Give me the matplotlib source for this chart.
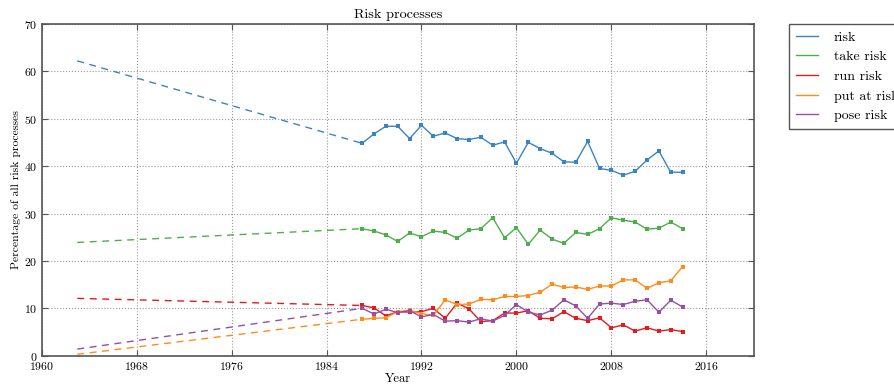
import matplotlib
matplotlib.use("Agg")
import matplotlib.pyplot as plt

# Estimated starting shares in 1963 (drawn as dashed link to 1987)
year_start = 1963
start_values = {
    "risk": 62.2,
    "take risk": 23.9,
    "run risk": 12.1,
    "put at risk": 0.3,
    "pose risk": 1.4,
}

years = list(range(1987, 2015))

risk = [44.8, 46.8, 48.4, 48.4, 45.8, 48.6, 46.3, 47.0, 45.8, 45.6, 46.1, 44.4,
        45.1, 40.6, 45.0, 43.7, 42.7, 40.9, 40.8, 45.2, 39.5, 39.1, 38.1, 38.9,
        41.3, 43.2, 38.7, 38.7]
take_risk = [26.8, 26.3, 25.5, 24.1, 25.9, 25.1, 26.3, 26.0, 24.8, 26.5, 26.8, 29.1,
             24.9, 27.0, 23.5, 26.5, 24.6, 23.7, 26.0, 25.6, 26.8, 29.1, 28.6, 28.2,
             26.7, 26.9, 28.2, 26.8]
run_risk = [10.6, 10.1, 8.4, 9.3, 9.2, 9.3, 10.0, 7.9, 11.1, 9.9, 7.2, 7.4,
            9.0, 9.0, 9.5, 7.9, 7.8, 9.3, 7.9, 7.4, 8.0, 5.9, 6.5, 5.2,
            5.9, 5.2, 5.5, 5.1]
put_at_risk = [7.7, 7.9, 8.0, 9.3, 9.6, 8.9, 8.5, 11.8, 10.8, 10.9, 11.9, 11.8,
               12.5, 12.5, 12.7, 13.4, 15.1, 14.4, 14.5, 14.0, 14.7, 14.7, 16.0, 16.0,
               14.2, 15.4, 15.8, 18.8]
pose_risk = [10.0, 8.8, 9.8, 9.1, 9.5, 8.2, 8.7, 7.3, 7.4, 7.1, 7.8, 7.3,
             8.5, 10.8, 9.2, 8.6, 9.6, 11.8, 10.5, 7.9, 10.9, 11.1, 10.8, 11.5,
             11.8, 9.2, 11.7, 10.3]

series = [
    ("risk", risk, "#3a84c4"),
    ("take risk", take_risk, "#4daf4a"),
    ("run risk", run_risk, "#e41a1c"),
    ("put at risk", put_at_risk, "#ff8c1a"),
    ("pose risk", pose_risk, "#984ea3"),
]

x_ticks = [1960, 1968, 1976, 1984, 1992, 2000, 2008, 2016]
y_ticks = [0, 10, 20, 30, 40, 50, 60, 70]

plt.rcParams["font.family"] = ["cmr10", "DejaVu Serif"]
plt.rcParams["axes.formatter.use_mathtext"] = True
plt.rcParams["mathtext.fontset"] = "cm"

fig = plt.figure(figsize=(8.94, 3.85), dpi=100)
ax = fig.add_axes([0.0466, 0.076, 0.7966, 0.862])

for name, values, color in series:
    ax.plot([year_start, years[0]], [start_values[name], values[0]],
            linestyle="--", color=color, linewidth=1.0, dashes=(5, 4))
    ax.plot(years, values, color=color, linewidth=1.0, label=name)
    ax.plot(years, values, color=color, linestyle="none", marker="s",
            markersize=2.2, markeredgewidth=0)

ax.set_xlim(1960, 2020)
ax.set_ylim(0, 70)
ax.set_xticks(x_ticks)
ax.set_yticks(y_ticks)
ax.tick_params(direction="in", top=True, right=True, length=4,
               labelsize=8.5, color="#555555", width=0.8, pad=3)
ax.grid(True, linestyle=":", color="#999999", linewidth=0.8)
for spine in ax.spines.values():
    spine.set_color("#555555")
    spine.set_linewidth(1.2)

ax.set_title("Risk processes", fontsize=10.2, pad=4)
ax.set_xlabel("Year", fontsize=9, labelpad=1)
ax.set_ylabel("Percentage of all risk processes", fontsize=8.4, labelpad=2)

leg = ax.legend(loc="upper left", bbox_to_anchor=(1.05, 1.0), fontsize=10,
                fancybox=False, framealpha=1, edgecolor="#555555",
                handlelength=1.55, handletextpad=1.15, borderpad=0.5,
                labelspacing=0.5, borderaxespad=0)
leg.get_frame().set_linewidth(1.0)

fig.savefig("out.png", dpi=100)
